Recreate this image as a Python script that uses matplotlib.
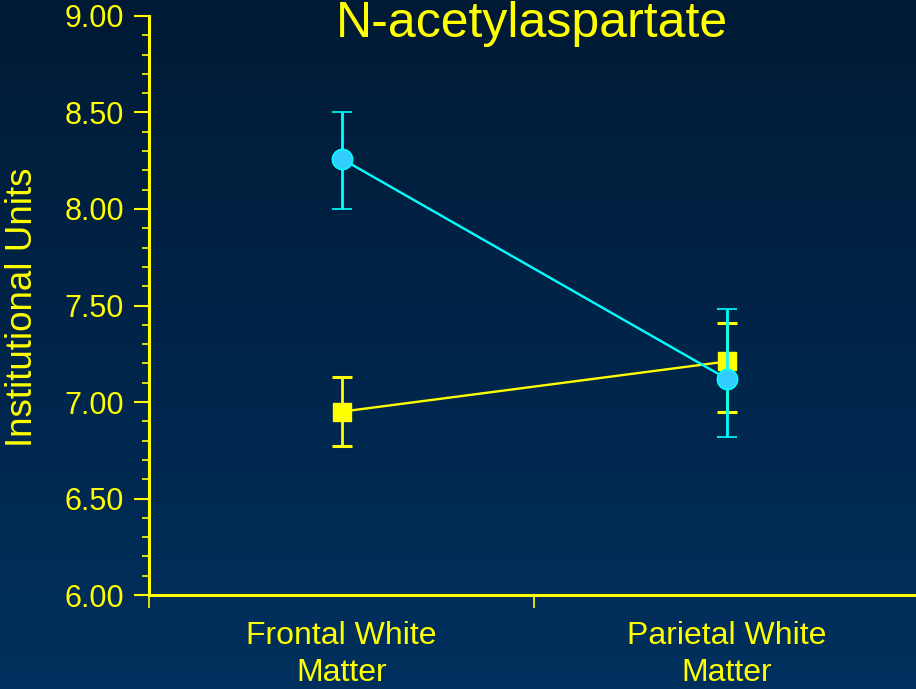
import numpy as np
from matplotlib import pyplot as plt

# data
categories = ["Frontal White\nMatter", "Parietal White\nMatter"]
cyanMean = [8.26, 7.12]
cyanLow = [8.00, 6.82]
cyanHigh = [8.50, 7.48]
yellowMean = [6.95, 7.21]
yellowLow = [6.77, 6.95]
yellowHigh = [7.13, 7.41]
yTicks = [6.0, 6.5, 7.0, 7.5, 8.0, 8.5, 9.0]

YELLOW = "#FFFF00"
CYAN = "#00FFFF"
plt.rcParams['font.family'] = ['Liberation Sans', 'DejaVu Sans']

fig = plt.figure(figsize=(9.16, 6.89), dpi=100)

# dark blue vertical gradient background
bg = fig.add_axes([0, 0, 1, 1], zorder=-10)
grad = np.linspace(0, 1, 256).reshape(-1, 1)
top = np.array([0x01, 0x1A, 0x35]) / 255
bottom = np.array([0x00, 0x30, 0x5E]) / 255
img = top + (bottom - top) * grad[:, :, None]
bg.imshow(img, aspect='auto', extent=[0, 1, 0, 1])
bg.axis('off')

ax = fig.add_axes([0.1627, 0.1364, 0.8373 + 0.004, 0.9768 - 0.1364])
ax.set_facecolor('none')

x = np.array([0.5, 1.5])


def errs(mean, low, high):
    mean = np.array(mean)
    return np.vstack([mean - np.array(low), np.array(high) - mean])


ax.errorbar(x, yellowMean, yerr=errs(yellowMean, yellowLow, yellowHigh),
            color=YELLOW, lw=1.7, elinewidth=2, capsize=7, capthick=2.2,
            marker='s', markersize=12.5, markerfacecolor=YELLOW,
            markeredgecolor=YELLOW, zorder=3, clip_on=False)
ax.errorbar(x, cyanMean, yerr=errs(cyanMean, cyanLow, cyanHigh),
            color=CYAN, lw=1.7, elinewidth=2, capsize=7, capthick=2.2,
            marker='o', markersize=14.5, markerfacecolor="#33CCFF",
            markeredgecolor=CYAN, markeredgewidth=1.2, zorder=4, clip_on=False)

ax.set_ylim(6, 9)
ax.set_xlim(0, 2)
ax.set_yticks(yTicks)
ax.set_yticklabels(["%.2f" % v for v in yTicks])
ax.set_yticks(np.arange(6.0, 9.01, 0.1), minor=True)
ax.set_xticks([0, 1, 2])
ax.set_xticklabels([])
ax.set_xticks(x, minor=True)
ax.set_xticklabels(categories, minor=True, linespacing=1.3)

for s in ['top', 'right']:
    ax.spines[s].set_visible(False)
for s in ['left', 'bottom']:
    ax.spines[s].set_color(YELLOW)
    ax.spines[s].set_linewidth(2.2)

ax.tick_params(axis='y', which='major', colors=YELLOW, length=11, width=1.5,
               labelsize=22, pad=7)
ax.tick_params(axis='y', which='minor', colors=YELLOW, length=5, width=1.2)
ax.tick_params(axis='x', which='major', colors=YELLOW, length=9, width=1.2)
ax.tick_params(axis='x', which='minor', colors=YELLOW, length=0,
               labelsize=23, pad=19)

fig.text(23 / 916, 1 - 307 / 689, "Institutional Units", rotation=90,
         color=YELLOW, fontsize=26.5, ha='center', va='center')
fig.text(532 / 916, 0.999, "N-acetylaspartate", color=YELLOW,
         fontsize=36, ha='center', va='top')

fig.savefig("out.png", dpi=100)
